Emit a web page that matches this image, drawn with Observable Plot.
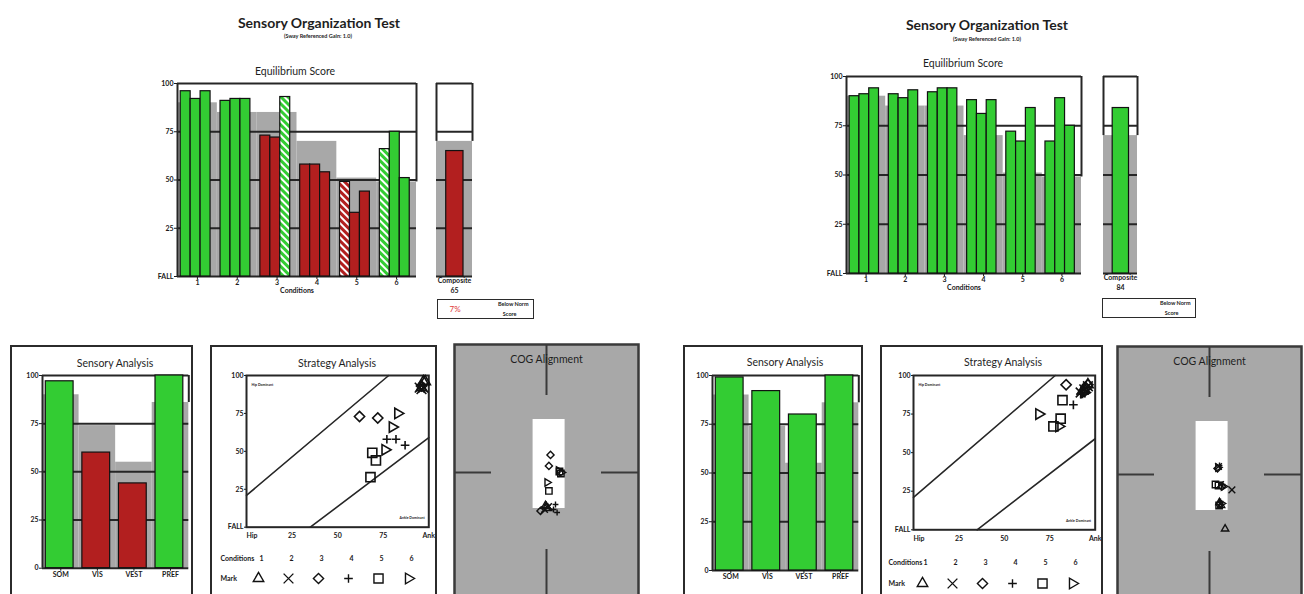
<!DOCTYPE html>
<html><head><meta charset="utf-8">
<script src="https://cdn.jsdelivr.net/npm/d3@7"></script>
<script src="https://cdn.jsdelivr.net/npm/@observablehq/plot@0.6"></script>
<style>
body{margin:0;background:#fff;font-family:Lato,"Open Sans",sans-serif;}
#root{position:relative;width:1304px;height:594px;overflow:hidden;background:#fff;}
.t{position:absolute;transform:translate(-50%,-50%);white-space:nowrap;color:#1e1e1e;line-height:1;}
.box{position:absolute;border:2px solid #2b2b2b;box-sizing:border-box;}
</style></head><body>
<svg width="0" height="0" style="position:absolute">
<defs>
<pattern id="hatchGreen" patternUnits="userSpaceOnUse" width="5" height="5" patternTransform="rotate(-45)">
<rect width="5" height="5" fill="#33cc33"/><rect width="2" height="5" fill="#ffffff"/></pattern>
<pattern id="hatchRed" patternUnits="userSpaceOnUse" width="5" height="5" patternTransform="rotate(-45)">
<rect width="5" height="5" fill="#b21f1f"/><rect width="2" height="5" fill="#ffffff"/></pattern>
</defs></svg>
<div id="root"></div>
<script>
// ---------------- DATA ----------------
const conditions = [1, 2, 3, 4, 5, 6];
const conditionNorms = [90, 85, 85, 70, 51, 49];
const compositeNorm = 70;
const yTicks = [0, 25, 50, 75, 100];

const leftScores  = [96, 92, 96,  91, 92, 92,  73, 72, 93,  58, 58, 54,  49, 33, 44,  66, 75, 51];
const leftHatched = [0, 0, 0,  0, 0, 0,  0, 0, 1,  0, 0, 0,  1, 0, 0,  1, 0, 0];
const leftComposite = 65;
const leftBelowNorm = "7%";

const rightScores  = [90, 91, 94,  91, 89, 93,  92, 94, 94,  88, 81, 88,  72, 67, 84,  67, 89, 75];
const rightHatched = [0, 0, 0,  0, 0, 0,  0, 0, 0,  0, 0, 0,  0, 0, 0,  0, 0, 0];
const rightComposite = 84;
const rightBelowNorm = "";

const sensoryLabels = ["SOM", "VIS", "VEST", "PREF"];
const sensoryNorms = [90, 74, 55, 86];
const leftSensory = [97, 60, 44, 100];
const rightSensory = [99, 92, 80, 100];

const strategyTicks = [0, 25, 50, 75, 100];
const strategyTickLabels = ["Hip", "25", "50", "75", "Ank"];
const hipLine = [[0, 21], [78, 100]];
const ankleLine = [[35, 0], [100, 59]];
const leftStrategyX  = [97, 96, 98,  96, 97, 95,  62, 72, 96,  77, 82, 87,  69, 68, 71,  80, 83, 76];
const rightStrategyX = [93, 94, 96,  94, 92, 96,  95, 84, 96,  92, 88, 93,  81, 77, 82,  80, 94, 69];

const cogDomainX = [-4.6, 4.6];
const cogDomainY = [-6.4, 6.4];
const cogCrossGap = [2.75, 3.85];
const cogZoneX = [-0.67, 0.93];
const cogZoneY = [-1.8, 2.65];
const leftCogX = [0.0, 0.08, -0.05,  0.05, -0.1, 0.1,  0.2, 0.12, -0.3,  0.53, 0.35, 0.45,  0.65, 0.12, 0.72,  0.6, 0.03, 0.75];
const leftCogY = [-1.7, -1.8, -1.65,  -1.75, -1.85, -1.7,  0.88, 0.33, -1.92,  -2.0, -1.85, -1.6,  0.05, -0.92, -0.05,  0.1, -0.5, 0.0];
const rightCogX = [0.78, 0.5, 0.58,  1.12, 0.45, 0.55,  0.5, 0.62, 0.4,  0.55, 0.65, 0.5,  0.3, 0.45, 0.48,  0.6, 0.42, 0.7];
const rightCogY = [-2.72, -1.4, -1.55,  -0.77, 0.4, -0.5,  -1.5, -0.6, 0.3,  -1.35, -0.5, 0.45,  -0.5, -0.55, -1.55,  -1.45, 0.35, -0.6];

// ---------------- STYLE ----------------
const GREEN = "#33cc33", RED = "#b21f1f", GRAY = "#a8a8a8", LINE = "#262626", INK = "#111";
const baseStyle = {fontFamily: "Lato, 'Open Sans', sans-serif", fontSize: "7px", fontWeight: "bold", color: "#1a1a1a", background: "transparent", overflow: "visible"};
const triangleRight = {draw(context, size) {
  const s = Math.sqrt(size) * 0.6824, t = s / 2, u = s * Math.sqrt(3) / 2;
  context.moveTo(s, 0); context.lineTo(-t, u); context.lineTo(-t, -u); context.closePath();
}};
const markSymbols = ["triangle2", "times", "diamond2", "plus", "square2", triangleRight];
const markRadius = [5, 4.5, 4.6, 2.9, 5.8, 5];

const root = document.getElementById("root");
function place(node, left, top) {
  node.style.position = "absolute"; node.style.left = left + "px"; node.style.top = top + "px";
  root.appendChild(node);
}
function label(text, x, y, css) {
  const d = document.createElement("div");
  d.className = "t"; d.textContent = text;
  d.style.left = x + "px"; d.style.top = y + "px";
  Object.assign(d.style, css || {});
  root.appendChild(d);
}
function box(x, y, w, h) {
  const d = document.createElement("div");
  d.className = "box";
  Object.assign(d.style, {left: x + "px", top: y + "px", width: w + "px", height: h + "px"});
  root.appendChild(d);
}

// ---------------- PANELS ----------------
function equilibriumPanel(scores, hatched, f) {
  const barOffset = 0.08, barWidth = 0.25;
  const trials = scores.map((score, k) => {
    const i = Math.floor(k / 3), j = k % 3, pass = score >= conditionNorms[i];
    return {i, j, score, fill: hatched[k] ? (pass ? "url(#hatchGreen)" : "url(#hatchRed)") : (pass ? GREEN : RED)};
  });
  const bands = conditions.map((c, i) => ({i, norm: conditionNorms[i]}));
  const m = {l: 27, r: 4, t: 6, b: 26};
  const p = Plot.plot({
    width: m.l + f.w + m.r, height: m.t + f.h + m.b,
    marginLeft: m.l, marginRight: m.r, marginTop: m.t, marginBottom: m.b,
    x: {domain: [0, conditions.length]}, y: {domain: [0, 100]}, color: {type: "identity"},
    style: baseStyle,
    marks: [
      Plot.rectY(bands, {x1: "i", x2: d => d.i + 1, y1: 0, y2: "norm", fill: GRAY}),
      Plot.ruleY(yTicks, {stroke: LINE, strokeWidth: 2}),
      Plot.ruleX([0], {y1: 0, y2: 100, stroke: LINE, strokeWidth: 2}),
      Plot.ruleX([conditions.length], {y1: conditionNorms[conditionNorms.length - 1], y2: 100, stroke: LINE, strokeWidth: 2}),
      Plot.rectY(trials, {x1: d => d.i + barOffset + d.j * barWidth, x2: d => d.i + barOffset + (d.j + 1) * barWidth,
        y1: 0, y2: "score", fill: "fill", stroke: INK, strokeWidth: 1.2}),
      Plot.axisY({ticks: yTicks, tickFormat: d => d === 0 ? "FALL" : d, tickSize: 3, tickPadding: 1, label: null}),
      Plot.axisX({ticks: conditions.map((c, i) => i + 0.5), tickFormat: d => conditions[Math.floor(d)], tickSize: 3, tickPadding: 1, label: null}),
      Plot.text(["Conditions"], {frameAnchor: "bottom", dy: 16.5})
    ]
  });
  place(p, f.x - m.l, f.y - m.t);
}

function compositePanel(value, f) {
  const pass = value >= compositeNorm;
  const m = {l: 2, r: 2, t: 6, b: 26};
  const p = Plot.plot({
    width: m.l + f.w + m.r, height: m.t + f.h + m.b,
    marginLeft: m.l, marginRight: m.r, marginTop: m.t, marginBottom: m.b,
    x: {domain: [0, 1], axis: null}, y: {domain: [0, 100], axis: null},
    style: baseStyle,
    marks: [
      Plot.rectY([compositeNorm], {x1: 0, x2: 1, y1: 0, y2: d => d, fill: GRAY}),
      Plot.ruleY(yTicks, {x1: 0, x2: 1, stroke: LINE, strokeWidth: 2}),
      Plot.ruleX([0, 1], {y1: compositeNorm, y2: 100, stroke: LINE, strokeWidth: 2}),
      Plot.rectY([value], {x1: 0.27, x2: 0.75, y1: 0, y2: d => d, fill: pass ? GREEN : RED, stroke: INK, strokeWidth: 1.2}),
      Plot.text(["Composite"], {frameAnchor: "bottom", dy: 6}),
      Plot.text([value], {frameAnchor: "bottom", dy: 16.5, text: d => d})
    ]
  });
  place(p, f.x - m.l, f.y - m.t);
}

function belowNormBox(text, x, y, w) {
  const d = document.createElement("div");
  Object.assign(d.style, {position: "absolute", left: x + "px", top: y + "px", width: w + "px", height: "20px",
    border: "1.5px solid #2b2b2b", boxSizing: "border-box", fontFamily: "Lato, sans-serif"});
  d.innerHTML = `<span style="position:absolute;left:12px;top:4px;font-size:8px;color:#e03a3a">${text}</span>` +
    `<span style="position:absolute;right:4px;top:1px;font-size:5.5px;font-weight:bold;color:#222">Below Norm</span>` +
    `<span style="position:absolute;right:16px;top:11px;font-size:5.5px;font-weight:bold;color:#222">Score</span>`;
  root.appendChild(d);
}

function sensoryPanel(values, f) {
  const items = sensoryLabels.map((lab, i) => ({i, lab, norm: sensoryNorms[i], v: values[i], pass: values[i] >= sensoryNorms[i]}));
  const m = {l: 30, r: 4, t: 6, b: 14};
  const p = Plot.plot({
    width: m.l + f.w + m.r, height: m.t + f.h + m.b,
    marginLeft: m.l, marginRight: m.r, marginTop: m.t, marginBottom: m.b,
    x: {domain: [0, sensoryLabels.length]}, y: {domain: [0, 100]},
    style: baseStyle,
    marks: [
      Plot.rectY(items, {x1: "i", x2: d => d.i + 1, y1: 0, y2: "norm", fill: GRAY}),
      Plot.ruleY(yTicks, {stroke: LINE, strokeWidth: 2}),
      Plot.ruleX([0], {y1: 0, y2: 100, stroke: LINE, strokeWidth: 2}),
      Plot.ruleX([sensoryLabels.length], {y1: sensoryNorms[sensoryNorms.length - 1], y2: 100, stroke: LINE, strokeWidth: 2}),
      Plot.rectY(items, {x1: d => d.i + 0.09, x2: d => d.i + 0.85, y1: 0, y2: "v", fill: d => d.pass ? GREEN : RED, stroke: INK, strokeWidth: 1.2}),
      Plot.axisY({ticks: yTicks, tickSize: 3, tickPadding: 1, label: null}),
      Plot.axisX({ticks: sensoryLabels.map((l, i) => i + 0.5), tickFormat: d => sensoryLabels[Math.floor(d)], tickSize: 3, tickPadding: 1, label: null})
    ]
  });
  place(p, f.x - m.l, f.y - m.t);
}

function symbolDots(pts, scale, extra) {
  return conditions.map((c, i) => Plot.dot(pts.filter(d => d.c === c), {
    x: "x", y: "y", symbol: markSymbols[i], r: markRadius[i] * scale,
    stroke: INK, strokeWidth: 1.6, fill: "none", ...(extra || {})
  }));
}

function strategyPanel(xs, scores, f) {
  const pts = xs.map((x, k) => ({x, y: scores[k], c: conditions[Math.floor(k / 3)]}));
  const m = {l: 24, r: 10, t: 6, b: 16};
  const p = Plot.plot({
    width: m.l + f.w + m.r, height: m.t + f.h + m.b,
    marginLeft: m.l, marginRight: m.r, marginTop: m.t, marginBottom: m.b,
    x: {domain: [0, 100]}, y: {domain: [0, 100]},
    style: baseStyle,
    marks: [
      Plot.line(hipLine, {x: d => d[0], y: d => d[1], stroke: LINE, strokeWidth: 1.6}),
      Plot.line(ankleLine, {x: d => d[0], y: d => d[1], stroke: LINE, strokeWidth: 1.6}),
      Plot.frame({stroke: LINE, strokeWidth: 2}),
      Plot.text(["Hip Dominant"], {frameAnchor: "top-left", dx: 5, dy: 8, fontSize: 3.5, textAnchor: "start"}),
      Plot.text(["Ankle Dominant"], {frameAnchor: "bottom-right", dx: -4, dy: -8, fontSize: 3.5, textAnchor: "end"}),
      ...symbolDots(pts, 1),
      Plot.axisY({ticks: strategyTicks, tickFormat: d => d === 0 ? "FALL" : d, tickSize: 2, tickPadding: 1, label: null}),
      Plot.axisX({ticks: [strategyTicks[0]], tickFormat: () => strategyTickLabels[0], tickSize: 0, tickPadding: 6, textAnchor: "start", label: null}),
      Plot.axisX({ticks: strategyTicks.slice(1), tickFormat: (d, i) => strategyTickLabels[i + 1], tickSize: 0, tickPadding: 6, label: null})
    ]
  });
  place(p, f.x - m.l, f.y - m.t);
}

function strategyLegend(L) {
  const legendPts = conditions.map(c => ({x: c, y: 1, c}));
  const p = Plot.plot({
    width: L.w, height: 45, margin: 0,
    x: {domain: [conditions[0], conditions[conditions.length - 1]], range: L.xr, axis: null},
    y: {domain: [0, 1], range: L.yr, axis: null},
    style: baseStyle,
    marks: [
      Plot.text(["Conditions", "Mark"], {y: (d, i) => i, frameAnchor: "left", dx: L.labelX, textAnchor: "start"}),
      Plot.text(conditions, {x: d => d, y: 0, text: d => d, dx: 3}),
      ...symbolDots(legendPts, 1, {strokeWidth: 1.4})
    ]
  });
  place(p, L.x, L.y);
}

function cogPanel(xs, ys, cx, cy, w) {
  const pts = xs.map((x, k) => ({x, y: ys[k], c: conditions[Math.floor(k / 3)]}));
  const W = w, H = 256;
  const p = Plot.plot({
    width: W, height: H, margin: 0,
    x: {domain: cogDomainX, axis: null}, y: {domain: cogDomainY, axis: null},
    style: baseStyle,
    marks: [
      Plot.frame({fill: GRAY, stroke: null}),
      Plot.ruleX([0], {y1: cogCrossGap[1], y2: cogDomainY[1], stroke: "#3a3a3a", strokeWidth: 2}),
      Plot.ruleX([0], {y1: cogDomainY[0], y2: -cogCrossGap[1], stroke: "#3a3a3a", strokeWidth: 2}),
      Plot.ruleY([0], {x1: cogDomainX[0], x2: -cogCrossGap[0], stroke: "#3a3a3a", strokeWidth: 2}),
      Plot.ruleY([0], {x1: cogCrossGap[0], x2: cogDomainX[1], stroke: "#3a3a3a", strokeWidth: 2}),
      Plot.rect([0], {x1: cogZoneX[0], x2: cogZoneX[1], y1: cogZoneY[0], y2: cogZoneY[1], fill: "#ffffff"}),
      ...symbolDots(pts, 0.7, {strokeWidth: 1.4}),
      Plot.text(["COG Alignment"], {frameAnchor: "top", dy: 11, fontSize: 10.5, fontWeight: "normal", fill: "#1e1e1e"}),
      Plot.frame({stroke: "#3a3a3a", strokeWidth: 2.5})
    ]
  });
  place(p, cx - W / 2, cy - H / 2);
}

// ---------------- LEFT REPORT ----------------
label("Sensory Organization Test", 319, 23, {fontSize: "14px", fontWeight: "bold"});
label("(Sway Referenced Gain: 1.0)", 318, 37, {fontSize: "5.5px", fontWeight: "bold"});
label("Equilibrium Score", 295, 71, {fontSize: "10.5px"});
equilibriumPanel(leftScores, leftHatched, {x: 177, y: 83, w: 239, h: 193});
compositePanel(leftComposite, {x: 436, y: 83, w: 36, h: 193});
belowNormBox(leftBelowNorm, 436.5, 298.5, 97);

box(10, 345, 183, 270);
label("Sensory Analysis", 115, 363, {fontSize: "10.5px"});
sensoryPanel(leftSensory, {x: 41.7, y: 375, w: 146.3, h: 192.7});
box(210, 345, 227, 270);
label("Strategy Analysis", 337, 363, {fontSize: "10.5px"});
strategyPanel(leftStrategyX, leftScores, {x: 246, y: 375, w: 182.3, h: 151.7});
strategyLegend({x: 210, y: 545, w: 227, xr: [48, 198], yr: [13, 33], labelX: 10});
cogPanel(leftCogX, leftCogY, 546, 472, 184);

// ---------------- RIGHT REPORT ----------------
label("Sensory Organization Test", 987, 25, {fontSize: "14px", fontWeight: "bold"});
label("(Sway Referenced Gain: 1.0)", 987, 40, {fontSize: "5.5px", fontWeight: "bold"});
label("Equilibrium Score", 963, 63, {fontSize: "10.5px"});
equilibriumPanel(rightScores, rightHatched, {x: 846, y: 76, w: 235, h: 197});
compositePanel(rightComposite, {x: 1103, y: 76, w: 34, h: 197});
belowNormBox(rightBelowNorm, 1101.5, 298, 94);

box(683, 345, 180, 270);
label("Sensory Analysis", 785, 362, {fontSize: "10.5px"});
sensoryPanel(rightSensory, {x: 711.7, y: 375, w: 146.3, h: 195});
box(880, 345, 223, 270);
label("Strategy Analysis", 1003, 362, {fontSize: "10.5px"});
strategyPanel(rightStrategyX, rightScores, {x: 913.3, y: 375, w: 181.7, h: 154.3});
strategyLegend({x: 880, y: 540, w: 223, xr: [42, 192], yr: [22, 43], labelX: 8});
cogPanel(rightCogX, rightCogY, 1209.3, 474, 184);
</script>
</body></html>
